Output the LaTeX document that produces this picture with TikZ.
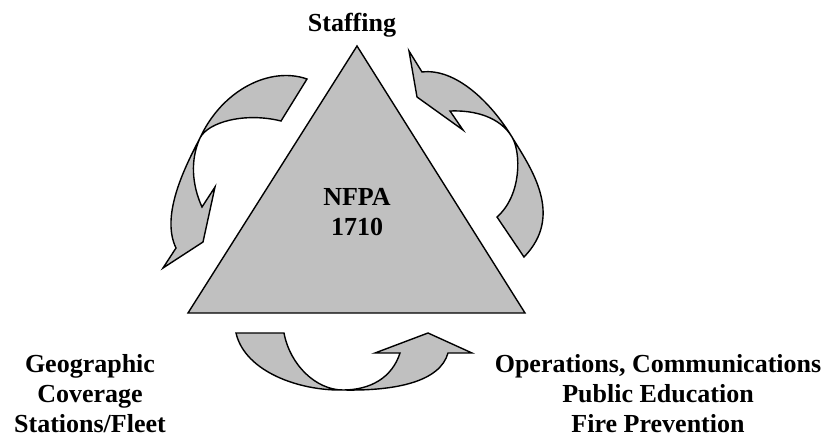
\documentclass[tikz,border=0pt]{standalone}
\usepackage{fontspec}
\setmainfont{Liberation Serif}
\usetikzlibrary{positioning}
\definecolor{silvergray}{RGB}{192,192,192}
\tikzset{
  band/.style={fill=silvergray, draw=black, line width=1.4pt},
  caption/.style={font=\bfseries\fontsize{26}{30}\selectfont, align=center, anchor=base, inner sep=0pt}
}

\begin{document}
\begin{tikzpicture}[x=1pt,y=-1pt]
\useasboundingbox (0,0) rectangle (830,436);
%Triangle:
\filldraw [band] (357,46) -- (525,313) -- (188,313) -- cycle;
%Curved arrows:
\filldraw [band] (307,79) .. controls (270,66) and (222,90) .. (200,138)
  .. controls (186,165) and (160,215) .. (176,248)
  -- (163,268) -- (203,242) -- (215,187) -- (202,207)
  .. controls (192,185) and (190,160) .. (200,138)
  .. controls (208,122) and (245,112) .. (281,121) -- cycle;
\filldraw [band] (524,257) .. controls (565,215) and (530,167) .. (512,137)
  .. controls (490,101) and (455,68) .. (422,72)
  -- (409,51) -- (417,97) -- (463,130) -- (450,111)
  .. controls (475,110) and (500,117) .. (512,137)
  .. controls (521,152) and (522,195) .. (497,217) -- cycle;
\filldraw [band] (236,333) .. controls (245,372) and (300,391) .. (343,390)
  .. controls (395,391) and (440,382) .. (448,353)
  -- (472,353) -- (428,333) -- (375,353) -- (400,353)
  .. controls (392,378) and (370,390) .. (343,390)
  .. controls (316,390) and (290,365) .. (284,333) -- cycle;
%Labels:
\node (staffing) [caption] at (352,32) {Staffing};
\node (nfpa) [caption] at (357,235) {NFPA\\1710};
\node (geo) [caption] at (90,432) {Geographic\\Coverage\\Stations/Fleet};
\node (ops) [caption] at (658,432) {Operations, Communications\\Public Education\\Fire Prevention};
\end{tikzpicture}
\end{document}
